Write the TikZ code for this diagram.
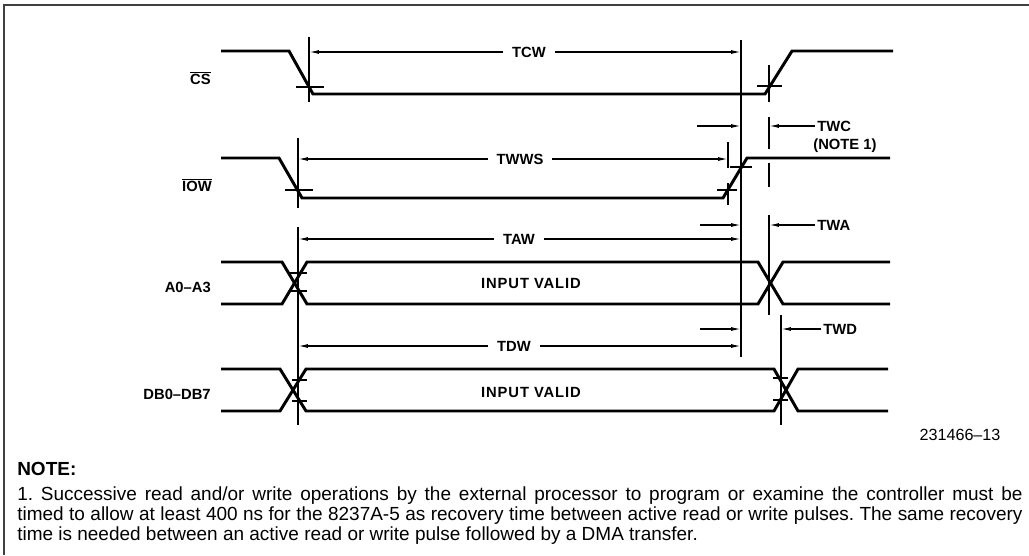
\documentclass[tikz,border=0pt]{standalone}
\usepackage{fontspec}
\setmainfont{Liberation Sans}
\usetikzlibrary{arrows.meta}
\usetikzlibrary{calc}

\tikzset{
    wave/.style={line width=2.1pt},
    hair/.style={line width=0.9pt},
    dimline/.style={line width=0.9pt, ->},
    signame/.style={font=\bfseries\fontsize{10.5}{12}\selectfont, inner sep=0pt},
    dimlabel/.style={font=\bfseries\fontsize{10.5}{12}\selectfont, inner sep=6pt},
    rlabel/.style={font=\bfseries\fontsize{10.5}{12}\selectfont, inner sep=1.5pt, anchor=west},
    notetext/.style={font=\fontsize{13.5}{14.2}\selectfont\frenchspacing, inner sep=0pt, anchor=base west},
}

\begin{document}
\begin{tikzpicture}[
        >={Latex[length=7pt,width=2.8pt]}, x=0.025cm, y=-0.025cm,
    ]
    \useasboundingbox (0,0) rectangle (1029,555);
    \draw[line width=1.3pt, black!75] (4,555) -- (4,5) -- (1029,5);

    % marker columns
    \coordinate (mCS) at (309,0);
    \coordinate (mA) at (298,0);
    \coordinate (mE) at (728,0);
    \coordinate (mB) at (741,0);
    \coordinate (mC) at (769,0);
    \coordinate (mD) at (781,0);

    % signal names
    \node[signame, anchor=east] (cs) at (211,78) {$\overline{\mbox{\bfseries CS}}$};
    \node[signame, anchor=east] (iow) at (212,185) {$\overline{\mbox{\bfseries IOW}}$};
    \node[signame, anchor=east] (addr) at (211,287) {A0--A3};
    \node[signame, anchor=east] (data) at (211,394) {DB0--DB7};

    % waveforms
    \draw[wave] (221,51) -- (289,51) -- (313,94) -- (765,94) -- (792,51) -- (893,51);
    \draw[wave] (221,158) -- (279,158) -- (302,198) -- (723,198) -- (747,158) -- (890,158);
    \draw[wave] (221,262) -- (282,262) -- (307,304) -- (758,304) -- (783,262) -- (890,262);
    \draw[wave] (221,304) -- (282,304) -- (307,262) -- (758,262) -- (783,304) -- (890,304);
    \draw[wave] (221,369) -- (280,369) -- (306,411) -- (774,411) -- (798,369) -- (888,369);
    \draw[wave] (221,411) -- (280,411) -- (306,369) -- (774,369) -- (798,411) -- (888,411);

    \node[signame, font=\bfseries\fontsize{10.5}{12}\selectfont\addfontfeature{LetterSpace=6}] (valid1) at (531,283) {INPUT VALID};
    \node[signame, font=\bfseries\fontsize{10.5}{12}\selectfont\addfontfeature{LetterSpace=6}] (valid2) at (531,392) {INPUT VALID};

    % reference lines and crosshairs
    \draw[hair] (309,37) -- (309,102);
    \draw[hair] (296,87) -- (324,87);
    \draw[hair] (769,65) -- (769,102);
    \draw[hair] (757,86) -- (782,86);
    \draw[hair] (298,138) -- (298,208);
    \draw[hair] (285,190) -- (313,190);
    \draw[hair] (741,40) -- (741,357);
    \draw[hair] (730,167) -- (752,167);
    \draw[hair] (728,142) -- (728,168);
    \draw[hair] (728,183) -- (728,205);
    \draw[hair] (717,190) -- (737,190);
    \draw[hair] (769,117) -- (769,149);
    \draw[hair] (769,163) -- (769,187);
    \draw[hair] (769,215) -- (769,315);
    \draw[hair] (298,227) -- (298,425);
    \draw[hair] (781,315) -- (781,425);
    \foreach \y in {273, 291}
        \draw[hair] (289,\y) -- (307,\y);
    \foreach \y in {380, 401}
        \draw[hair] (292,\y) -- (307,\y);
    \foreach \y in {378, 400}
        \draw[hair] (773,\y) -- (788,\y);

    % timing intervals
    \node[dimlabel] (tcw) at (529,52) {TCW};
    \draw[dimline] (tcw.west) -- (tcw.west -| mCS);
    \draw[dimline] (tcw.east) -- (tcw.east -| mB);

    \node[dimlabel] (twws) at (520,159) {TWWS};
    \draw[dimline] (twws.west) -- (twws.west -| mA);
    \draw[dimline] (twws.east) -- (twws.east -| mE);

    \node[dimlabel] (taw) at (519,239) {TAW};
    \draw[dimline] (taw.west) -- (taw.west -| mA);
    \draw[dimline] (taw.east) -- (taw.east -| mB);

    \node[dimlabel] (tdw) at (514,346) {TDW};
    \draw[dimline] (tdw.west) -- (tdw.west -| mA);
    \draw[dimline] (tdw.east) -- (tdw.east -| mB);

    \node[rlabel] (twc) at (815,126) {TWC};
    \node[rlabel] (note1) at (811,146) {(NOTE 1)};
    \draw[dimline] (twc.west) -- (twc.west -| mC);
    \draw[dimline] ($(twc.west -| mB)+(-44,0)$) -- (twc.west -| mB);

    \node[rlabel] (twa) at (815,225) {TWA};
    \draw[dimline] (twa.west) -- (twa.west -| mC);
    \draw[dimline] ($(twa.west -| mB)+(-41,0)$) -- (twa.west -| mB);

    \node[rlabel] (twd) at (821,329) {TWD};
    \draw[dimline] (twd.west) -- (twd.west -| mD);
    \draw[dimline] ($(twd.west -| mB)+(-41,0)$) -- (twd.west -| mB);

    % figure number and note
    \node[font=\fontsize{11.5}{13}\selectfont, inner sep=0pt] (fignum) at (960,435) {231466--13};
    \node[notetext, font=\bfseries\fontsize{13.5}{14.2}\selectfont] (note) at (17,475) {NOTE:};
    \node[notetext] (line1) at (17,500) {\makebox[25.125cm][s]{1. Successive read and/or write operations by the external processor to program or examine the controller must be}};
    \node[notetext] (line2) at (17,520) {\makebox[25.125cm][s]{timed to allow at least 400 ns for the 8237A-5 as recovery time between active read or write pulses. The same recovery}};
    \node[notetext] (line3) at (17,540) {time is needed between an active read or write pulse followed by a DMA transfer.};
\end{tikzpicture}
\end{document}
